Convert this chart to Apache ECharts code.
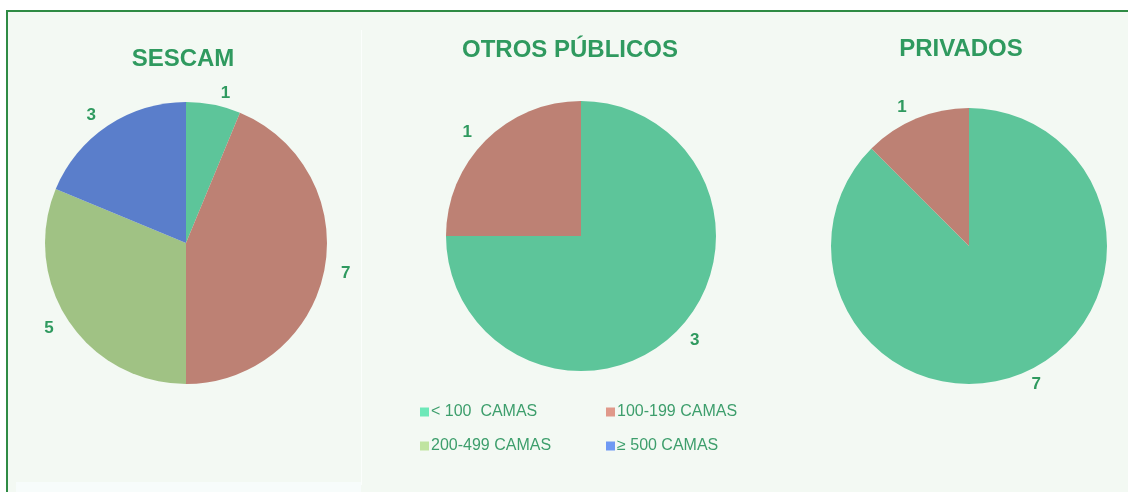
<!DOCTYPE html>
<html>
<head>
<meta charset="utf-8">
<script src="https://cdn.jsdelivr.net/npm/echarts@6/dist/echarts.min.js"></script>
<style>
  html, body { margin: 0; padding: 0; background: #fff; }
  #main { width: 1128px; height: 492px; }
</style>
</head>
<body>
<div id="main"></div>
<script>
// categorías (tamaño del hospital por número de camas)
const categories = ['< 100  CAMAS', '100-199 CAMAS', '200-499 CAMAS', '≥ 500 CAMAS']
const titles = ['SESCAM', 'OTROS PÚBLICOS', 'PRIVADOS']
const sescam = [1, 7, 5, 3]
const otrosPublicos = [3, 1, 0, 0]
const privados = [7, 1, 0, 0]

const pieColors = ['#5dc59a', '#bd8174', '#a0c284', '#5a7ecb']
const legendColors = ['#6de8b8', '#e0998a', '#c0e4a0', '#6e99f3']
const textGreen = '#2f9a5f'

const chart = echarts.init(document.getElementById('main'))

const toData = function(values) {
	return values
		.map((v, i) => ({ name: categories[i], value: v, itemStyle: { color: pieColors[i] } }))
		.filter(d => d.value > 0)
}

const makePie = function(values, center, radius) {
	return {
		type: 'pie',
		center: center,
		radius: radius,
		startAngle: 90,
		clockwise: true,
		avoidLabelOverlap: false,
		data: toData(values),
		label: {
			show: true,
			position: 'outside',
			formatter: '{c}',
			color: textGreen,
			fontSize: 17,
			fontWeight: 'bold',
			fontFamily: 'Liberation Sans, Arial, sans-serif',
		},
		labelLine: { show: false, length: 12, length2: 0 },
		emphasis: { disabled: true },
	}
}

const titleStyle = {
	color: textGreen,
	fontSize: 24,
	fontWeight: 'bold',
	fontFamily: 'Liberation Sans, Arial, sans-serif',
}

const options = {
	backgroundColor: '#ffffff',
	animation: false,
	graphic: [
		{
			type: 'rect',
			z: -10,
			silent: true,
			shape: { x: 7, y: 11, width: 1140, height: 500 },
			style: { fill: '#f3f9f3', stroke: '#2e8b44', lineWidth: 2 },
		},
		{
			type: 'line',
			z: -9,
			silent: true,
			shape: { x1: 361.5, y1: 30, x2: 361.5, y2: 485 },
			style: { stroke: '#fbfefc', lineWidth: 1 },
		},
		{
			type: 'rect',
			z: -9,
			silent: true,
			shape: { x: 16, y: 482, width: 345, height: 10 },
			style: { fill: '#f7fcfb' },
		},
	],
	title: [
		{ text: titles[0], left: 183, top: 47, padding: 0, textAlign: 'center', textStyle: titleStyle },
		{ text: titles[1], left: 570, top: 38, padding: 0, textAlign: 'center', textStyle: titleStyle },
		{ text: titles[2], left: 961, top: 37, padding: 0, textAlign: 'center', textStyle: titleStyle },
	],
	legend: {
		left: 420,
		top: 401,
		padding: 0,
		width: 380,
		orient: 'horizontal',
		icon: 'rect',
		itemWidth: 9,
		itemHeight: 9,
		itemGap: 12,
		selectedMode: false,
		textStyle: {
			color: '#3d9e6c',
			fontSize: 16,
			width: 163,
			lineHeight: 22,
			padding: [0, 0, 0, -3],
			fontFamily: 'Liberation Sans, Arial, sans-serif',
		},
		data: categories.map((c, i) => ({ name: c, itemStyle: { color: legendColors[i] } })),
	},
	series: [
		makePie(sescam, [186, 243], 141),
		makePie(otrosPublicos, [581, 236], 135),
		makePie(privados, [969, 246], 138),
	],
}

chart.setOption(options)
</script>
</body>
</html>
